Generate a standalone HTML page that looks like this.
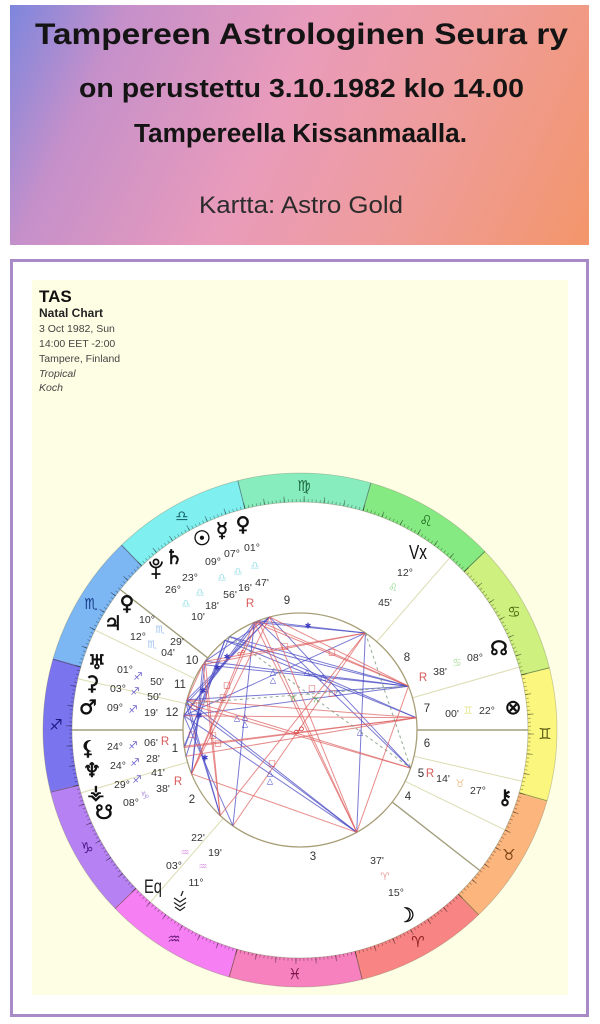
<!DOCTYPE html>
<html>
<head>
<meta charset="utf-8">
<style>
html,body{margin:0;padding:0;background:#fff;}
body{width:600px;height:1024px;position:relative;overflow:hidden;}
#banner{position:absolute;left:10px;top:5px;width:579px;height:240px;
background:linear-gradient(115deg,#7d86dd 0%,#c590ca 17%,#e99bbb 45%,#ef9c98 72%,#f3966a 100%);}
svg{position:absolute;left:0;top:0;}
.d{font-family:"Liberation Sans",sans-serif;font-size:10.5px;fill:#333;text-anchor:middle;dominant-baseline:central;}
.h{font-family:"Liberation Sans",sans-serif;font-size:11.5px;fill:#333;text-anchor:middle;dominant-baseline:central;}
.r{font-family:"Liberation Sans",sans-serif;font-size:11.5px;fill:#d85a5a;text-anchor:middle;dominant-baseline:central;}
.g{font-family:"DejaVu Sans",sans-serif;font-size:20px;fill:#111;stroke:#111;stroke-width:0.6;text-anchor:middle;dominant-baseline:central;}
.z{font-family:"DejaVu Sans",sans-serif;font-size:15px;text-anchor:middle;dominant-baseline:central;}
.s{font-family:"DejaVu Sans",sans-serif;font-size:10.5px;text-anchor:middle;dominant-baseline:central;}
.a{font-family:"DejaVu Sans",sans-serif;font-size:8px;text-anchor:middle;dominant-baseline:central;}
</style>
</head>
<body>
<div id="banner"></div>
<svg width="600" height="1024" viewBox="0 0 600 1024">
  <!-- Banner text -->
  <g font-family="Liberation Sans, sans-serif" fill="#141414">
    <text x="35" y="44" font-size="30" font-weight="700" textLength="533" lengthAdjust="spacingAndGlyphs">Tampereen Astrologinen Seura ry</text>
    <text x="79" y="97" font-size="25.5" font-weight="700" textLength="445" lengthAdjust="spacingAndGlyphs">on perustettu 3.10.1982 klo 14.00</text>
    <text x="134" y="142" font-size="25.5" font-weight="700" textLength="333" lengthAdjust="spacingAndGlyphs">Tampereella Kissanmaalla.</text>
    <text x="199" y="213" font-size="24" fill="#2b2b2b" textLength="204" lengthAdjust="spacingAndGlyphs">Kartta: Astro Gold</text>
  </g>

  <!-- Frame -->
  <rect x="11.5" y="260.5" width="576" height="755" fill="#fff" stroke="#a88ac6" stroke-width="3"/>
  <rect x="32" y="280" width="536" height="715" fill="#fefee5"/>

  <!-- Chart header -->
  <g font-family="Liberation Sans, sans-serif">
    <text x="39" y="302" font-size="17" font-weight="700" fill="#111">TAS</text>
    <text x="39" y="317" font-size="12" font-weight="700" fill="#222">Natal Chart</text>
    <text x="39" y="332" font-size="10.5" fill="#444">3 Oct 1982, Sun</text>
    <text x="39" y="347" font-size="10.5" fill="#444">14:00 EET -2:00</text>
    <text x="39" y="362" font-size="10.5" fill="#444">Tampere, Finland</text>
    <text x="39" y="377" font-size="10.5" font-style="italic" fill="#444">Tropical</text>
    <text x="39" y="391" font-size="10.5" font-style="italic" fill="#444">Koch</text>
  </g>

  <!-- Zodiac ring -->
  <g transform="translate(300,730)">
    <circle r="242.5" fill="none" stroke="#f98484" stroke-width="29" stroke-dasharray="127.6 1500" transform="rotate(46)"/>
    <circle r="242.5" fill="none" stroke="#fbb57d" stroke-width="29" stroke-dasharray="127.6 1500" transform="rotate(16)"/>
    <circle r="242.5" fill="none" stroke="#fbf67e" stroke-width="29" stroke-dasharray="127.6 1500" transform="rotate(-14)"/>
    <circle r="242.5" fill="none" stroke="#cdf07f" stroke-width="29" stroke-dasharray="127.6 1500" transform="rotate(-44)"/>
    <circle r="242.5" fill="none" stroke="#86ea82" stroke-width="29" stroke-dasharray="127.6 1500" transform="rotate(-74)"/>
    <circle r="242.5" fill="none" stroke="#88edbe" stroke-width="29" stroke-dasharray="127.6 1500" transform="rotate(-104)"/>
    <circle r="242.5" fill="none" stroke="#80eff0" stroke-width="29" stroke-dasharray="127.6 1500" transform="rotate(-134)"/>
    <circle r="242.5" fill="none" stroke="#7cb7f4" stroke-width="29" stroke-dasharray="127.6 1500" transform="rotate(-164)"/>
    <circle r="242.5" fill="none" stroke="#7b74ef" stroke-width="29" stroke-dasharray="127.6 1500" transform="rotate(-194)"/>
    <circle r="242.5" fill="none" stroke="#b682f3" stroke-width="29" stroke-dasharray="127.6 1500" transform="rotate(-224)"/>
    <circle r="242.5" fill="none" stroke="#f680f3" stroke-width="29" stroke-dasharray="127.6 1500" transform="rotate(-254)"/>
    <circle r="242.5" fill="none" stroke="#f681be" stroke-width="29" stroke-dasharray="127.6 1500" transform="rotate(-284)"/>
    <!-- ticks -->
    <circle r="229.5" fill="none" stroke="rgba(0,0,0,0.38)" stroke-width="3" stroke-dasharray="0.7 3.3055" stroke-dashoffset="0.35"/>
    <circle r="231" fill="none" stroke="rgba(0,0,0,0.38)" stroke-width="6" stroke-dasharray="0.9 19.2586" stroke-dashoffset="-3.58"/>
    <!-- ring outlines -->
    <circle r="257" fill="none" stroke="rgba(110,110,80,0.35)" stroke-width="0.8"/>
    <circle r="228" fill="#fff" stroke="rgba(110,110,80,0.45)" stroke-width="0.8"/>
    <!-- sign boundaries -->
    <g stroke="rgba(60,60,40,0.55)" stroke-width="0.9">
      <line x1="228" x2="257" transform="rotate(76)"/>
      <line x1="228" x2="257" transform="rotate(46)"/>
      <line x1="228" x2="257" transform="rotate(16)"/>
      <line x1="228" x2="257" transform="rotate(-14)"/>
      <line x1="228" x2="257" transform="rotate(-44)"/>
      <line x1="228" x2="257" transform="rotate(-74)"/>
      <line x1="228" x2="257" transform="rotate(-104)"/>
      <line x1="228" x2="257" transform="rotate(-134)"/>
      <line x1="228" x2="257" transform="rotate(-164)"/>
      <line x1="228" x2="257" transform="rotate(-194)"/>
      <line x1="228" x2="257" transform="rotate(-224)"/>
      <line x1="228" x2="257" transform="rotate(-254)"/>
    </g>
    <!-- house cusps -->
    <g stroke="#dcdcb2" stroke-width="1">
      <line x1="117" x2="228" transform="rotate(-196)"/>
      <line x1="117" x2="228" transform="rotate(-229)"/>
      <line x1="117" x2="228" transform="rotate(-334)"/>
      <line x1="117" x2="228" transform="rotate(-347)"/>
      <line x1="117" x2="228" transform="rotate(-16)"/>
      <line x1="117" x2="228" transform="rotate(-49)"/>
      <line x1="117" x2="228" transform="rotate(-154)"/>
      <line x1="117" x2="228" transform="rotate(-167)"/>
    </g>
    <g stroke="#a29e7c" stroke-width="1.4">
      <line x1="117" x2="228" transform="rotate(-180)"/>
      <line x1="117" x2="228" transform="rotate(-322)"/>
      <line x1="117" x2="228" transform="rotate(0)"/>
      <line x1="117" x2="228" transform="rotate(-142)"/>
    </g>
    <circle r="117" fill="#fff" stroke="#a89f78" stroke-width="1.3"/>
  </g>

  <!-- Sign glyphs -->
  <text class="z" x="418" y="942" fill="#8a1d1d">♈</text>
  <text class="z" x="509" y="855" fill="#7a4010">♉</text>
  <text class="z" x="545" y="734" fill="#555510">♊</text>
  <text class="z" x="514" y="612" fill="#4d6a10">♋</text>
  <text class="z" x="426" y="521" fill="#1d6a1d">♌</text>
  <text class="z" x="304" y="486" fill="#1d6a40">♍</text>
  <text class="z" x="182" y="516" fill="#1a6a70">♎</text>
  <text class="z" x="91" y="604" fill="#1a3f8a">♏</text>
  <text class="z" x="56" y="725" fill="#1a1a80">♐</text>
  <text class="z" x="87" y="848" fill="#4a1a8a">♑</text>
  <text class="z" x="174" y="939" fill="#6a1a7a">♒</text>
  <text class="z" x="295" y="974" fill="#7a1a4a">♓</text>

  <!-- Aspect lines -->
  <g stroke-width="1" fill="none">
    <g stroke="rgba(70,70,195,0.72)">
      <line x1="254.3" y1="622.3" x2="365.4" y2="633"/>
      <line x1="258.1" y1="620.8" x2="365.4" y2="633"/>
      <line x1="269.7" y1="617" x2="410.6" y2="768.1"/>
      <line x1="258.1" y1="620.8" x2="410.6" y2="768.1"/>
      <line x1="229.6" y1="636.6" x2="416.4" y2="717.8"/>
      <line x1="224.8" y1="640.4" x2="416.4" y2="717.8"/>
      <line x1="205.3" y1="661.2" x2="408.5" y2="686.2"/>
      <line x1="203" y1="664.6" x2="408.5" y2="686.2"/>
      <line x1="205.3" y1="661.2" x2="191.5" y2="773.8"/>
      <line x1="203" y1="664.6" x2="191.5" y2="773.8"/>
      <line x1="183.9" y1="715.7" x2="356.7" y2="832.3"/>
      <line x1="187" y1="699.7" x2="356.7" y2="832.3"/>
      <line x1="186" y1="703.7" x2="356.7" y2="832.3"/>
      <line x1="183.9" y1="715.7" x2="365.4" y2="633"/>
      <line x1="187" y1="699.7" x2="220.2" y2="815.6"/>
      <line x1="186" y1="703.7" x2="220.2" y2="815.6"/>
      <line x1="183.9" y1="715.7" x2="232.9" y2="825.8"/>
      <line x1="365.4" y1="633" x2="356.7" y2="832.3"/>
      <line x1="269.7" y1="617" x2="187" y2="699.7"/>
      <line x1="269.7" y1="617" x2="186" y2="703.7"/>
      <line x1="258.1" y1="620.8" x2="183.9" y2="715.7"/>
      <line x1="254.3" y1="622.3" x2="183.9" y2="715.7"/>
      <line x1="229.6" y1="636.6" x2="184.1" y2="746.3"/>
      <line x1="224.8" y1="640.4" x2="184.6" y2="747.5"/>
      <line x1="224.8" y1="640.4" x2="186" y2="756.3"/>
      <line x1="224.8" y1="640.4" x2="408.5" y2="686.2"/>
      <line x1="229.6" y1="636.6" x2="408.5" y2="686.2"/>
      <line x1="187" y1="699.7" x2="408.5" y2="686.2"/>
      <line x1="183.9" y1="715.7" x2="408.5" y2="686.2"/>
      <line x1="269.7" y1="617" x2="205.3" y2="661.2"/>
      <line x1="254.3" y1="622.3" x2="232.9" y2="825.8"/>
    </g>
    <g stroke="rgba(222,95,95,0.72)">
      <line x1="365.4" y1="633" x2="205.3" y2="661.2"/>
      <line x1="365.4" y1="633" x2="203" y2="664.6"/>
      <line x1="254.3" y1="622.3" x2="356.7" y2="832.3"/>
      <line x1="258.1" y1="620.8" x2="356.7" y2="832.3"/>
      <line x1="269.7" y1="617" x2="356.7" y2="832.3"/>
      <line x1="254.3" y1="622.3" x2="408.5" y2="686.2"/>
      <line x1="258.1" y1="620.8" x2="408.5" y2="686.2"/>
      <line x1="269.7" y1="617" x2="408.5" y2="686.2"/>
      <line x1="254.3" y1="622.3" x2="191.5" y2="773.8"/>
      <line x1="258.1" y1="620.8" x2="191.5" y2="773.8"/>
      <line x1="269.7" y1="617" x2="191.5" y2="773.8"/>
      <line x1="205.3" y1="661.2" x2="220.2" y2="815.6"/>
      <line x1="203" y1="664.6" x2="220.2" y2="815.6"/>
      <line x1="184.1" y1="746.3" x2="416.4" y2="717.8"/>
      <line x1="184.6" y1="747.5" x2="416.4" y2="717.8"/>
      <line x1="186" y1="756.3" x2="416.4" y2="717.8"/>
      <line x1="187" y1="699.7" x2="410.6" y2="768.1"/>
      <line x1="186" y1="703.7" x2="410.6" y2="768.1"/>
      <line x1="220.2" y1="815.6" x2="365.4" y2="633"/>
      <line x1="232.9" y1="825.8" x2="365.4" y2="633"/>
      <line x1="356.7" y1="832.3" x2="408.5" y2="686.2"/>
      <line x1="356.7" y1="832.3" x2="191.5" y2="773.8"/>
      <line x1="187" y1="699.7" x2="416.4" y2="717.8"/>
      <line x1="183.9" y1="715.7" x2="416.4" y2="717.8"/>
      <line x1="203" y1="664.6" x2="187" y2="699.7"/>
    </g>
    <g stroke="rgba(120,150,120,0.8)" stroke-dasharray="3 3">
      <line x1="186" y1="703.7" x2="408.5" y2="686.2"/>
      <line x1="365.4" y1="633" x2="410.6" y2="768.1"/>
      <line x1="229.6" y1="636.6" x2="410.6" y2="768.1"/>
    </g>
  </g>
  <!-- Aspect glyphs -->
  <g>
    <text class="a" x="308" y="626" fill="#3a3ac0">✱</text>
    <text class="a" x="227" y="657" fill="#3a3ac0">✱</text>
    <text class="a" x="217" y="668" fill="#3a3ac0">✱</text>
    <text class="a" x="203" y="691" fill="#3a3ac0">✱</text>
    <text class="a" x="199" y="716" fill="#3a3ac0">✱</text>
    <text class="a" x="205" y="758" fill="#3a3ac0">✱</text>
    <text class="a" x="273" y="672" fill="#3a3ac0">△</text>
    <text class="a" x="273" y="680" fill="#3a3ac0">△</text>
    <text class="a" x="307" y="672" fill="#3a3ac0">△</text>
    <text class="a" x="323" y="677" fill="#3a3ac0">△</text>
    <text class="a" x="338" y="692" fill="#3a3ac0">△</text>
    <text class="a" x="237" y="718" fill="#3a3ac0">△</text>
    <text class="a" x="245" y="717" fill="#3a3ac0">△</text>
    <text class="a" x="245" y="724" fill="#3a3ac0">△</text>
    <text class="a" x="360" y="732" fill="#3a3ac0">△</text>
    <text class="a" x="270" y="773" fill="#3a3ac0">△</text>
    <text class="a" x="270" y="781" fill="#3a3ac0">△</text>
    <text class="a" x="285" y="646" fill="#d84040" font-weight="700">□</text>
    <text class="a" x="332" y="652" fill="#d84040" font-weight="700">□</text>
    <text class="a" x="227" y="685" fill="#d84040">□</text>
    <text class="a" x="223" y="697" fill="#d84040">□</text>
    <text class="a" x="312" y="688" fill="#d84040">□</text>
    <text class="a" x="332" y="693" fill="#d84040">□</text>
    <text class="a" x="213" y="735" fill="#d84040">□</text>
    <text class="a" x="218" y="743" fill="#d84040" font-weight="700">□</text>
    <text class="a" x="272" y="763" fill="#d84040">□</text>
    <text class="a" x="194" y="706" fill="#d84040" font-weight="700">□</text>
    <text class="a" x="192" y="734" fill="#d84040" font-weight="700">□</text>
    <text class="a" x="241" y="653" fill="#d84040">☍</text>
    <text x="299" y="731" font-family="DejaVu Sans, sans-serif" font-size="11" fill="#d84040" text-anchor="middle" dominant-baseline="central">☍</text>
    <text class="a" x="293" y="699" fill="#3a9a3a">⚻</text>
    <text class="a" x="316" y="700" fill="#3a9a3a">⚻</text>
  </g>

  <!-- House numbers -->
  <text class="h" x="192" y="661">10</text>
  <text class="h" x="180" y="685">11</text>
  <text class="h" x="172" y="713">12</text>
  <text class="h" x="175" y="749" font-size="9">1</text>
  <text class="h" x="192" y="800">2</text>
  <text class="h" x="313" y="857">3</text>
  <text class="h" x="408" y="797">4</text>
  <text class="h" x="421" y="774">5</text>
  <text class="h" x="427" y="744">6</text>
  <text class="h" x="427" y="709">7</text>
  <text class="h" x="407" y="658">8</text>
  <text class="h" x="287" y="601">9</text>

  <!-- Planets upper-left (Libra) -->
  <text class="g" x="202" y="538" font-size="22">☉</text>
  <text class="g" x="222" y="530">☿</text>
  <text class="g" x="243" y="524">♀</text>
  <text class="g" x="174" y="557" font-size="19">♄</text>
  <!-- Pluto (drawn) -->
  <g stroke="#111" stroke-width="1.7" fill="none">
    <circle cx="156" cy="562" r="2.6"/>
    <path d="M150 561.5 A6 6 0 0 0 162 561.5"/>
    <line x1="156" y1="567.5" x2="156" y2="579"/>
    <line x1="151.5" y1="574" x2="160.5" y2="574"/>
  </g>
  <text class="d" x="213" y="562">09°</text>
  <text class="s" x="222" y="578" fill="#9edfe8">♎</text>
  <text class="d" x="230" y="595">56'</text>
  <text class="d" x="232" y="554">07°</text>
  <text class="s" x="238" y="572" fill="#9edfe8">♎</text>
  <text class="d" x="245" y="588">16'</text>
  <text class="r" x="250" y="604">R</text>
  <text class="d" x="252" y="548">01°</text>
  <text class="s" x="255" y="566" fill="#9edfe8">♎</text>
  <text class="d" x="262" y="583">47'</text>
  <text class="d" x="190" y="578">23°</text>
  <text class="s" x="200" y="593" fill="#9edfe8">♎</text>
  <text class="d" x="212" y="606">18'</text>
  <text class="d" x="173" y="590">26°</text>
  <text class="s" x="186" y="604" fill="#9edfe8">♎</text>
  <text class="d" x="198" y="617">10'</text>

  <!-- Scorpio -->
  <text class="g" x="127" y="603" font-size="17">♀</text>
  <text class="g" x="113" y="623" font-size="19">♃</text>
  <text class="d" x="147" y="620">10°</text>
  <text class="s" x="160" y="630" fill="#a0c4ec">♏</text>
  <text class="d" x="177" y="642">29'</text>
  <text class="d" x="138" y="637">12°</text>
  <text class="s" x="152" y="645" fill="#a0c4ec">♏</text>
  <text class="d" x="168" y="653">04'</text>

  <!-- Sagittarius -->
  <text class="g" x="97" y="662" font-size="19">♅</text>
  <text class="g" x="92" y="683" font-size="19">⚳</text>
  <text class="g" x="88" y="707">♂</text>
  <text class="d" x="125" y="670">01°</text>
  <text class="s" x="138" y="677" fill="#7068d0">♐</text>
  <text class="d" x="157" y="682">50'</text>
  <text class="d" x="118" y="689">03°</text>
  <text class="s" x="135" y="692" fill="#7068d0">♐</text>
  <text class="d" x="154" y="697">50'</text>
  <text class="d" x="115" y="708">09°</text>
  <text class="s" x="133" y="710" fill="#7068d0">♐</text>
  <text class="d" x="151" y="713">19'</text>

  <text class="g" x="88" y="748" font-size="19">⚸</text>
  <text class="g" x="92" y="770" font-size="19">♆</text>
  <text class="g" x="96" y="792" font-size="19">⚶</text>
  <text class="g" x="104" y="812" font-size="19">☋</text>
  <text class="d" x="115" y="747">24°</text>
  <text class="s" x="133" y="746" fill="#7068d0">♐</text>
  <text class="d" x="151" y="743">06'</text>
  <text class="r" x="165" y="742">R</text>
  <text class="d" x="118" y="766">24°</text>
  <text class="s" x="135" y="763" fill="#7068d0">♐</text>
  <text class="d" x="153" y="759">28'</text>
  <text class="d" x="122" y="785">29°</text>
  <text class="s" x="137" y="780" fill="#7068d0">♐</text>
  <text class="d" x="158" y="773">41'</text>
  <text class="r" x="178" y="782">R</text>
  <text class="d" x="131" y="803">08°</text>
  <text class="s" x="145" y="796" fill="#b49ae0">♑</text>
  <text class="d" x="163" y="789">38'</text>

  <!-- Aquarius points -->
  <text class="d" x="198" y="838">22'</text>
  <text class="s" x="185" y="853" fill="#e0a0e6">♒</text>
  <text class="d" x="215" y="853">19'</text>
  <text class="d" x="174" y="866">03°</text>
  <text class="s" x="203" y="867" fill="#e0a0e6">♒</text>
  <text class="d" x="196" y="883">11°</text>
  <text x="144" y="893" font-family="Liberation Sans, sans-serif" font-size="19" fill="#222" textLength="18" lengthAdjust="spacingAndGlyphs">Eq</text>
  <g stroke="#222" fill="none" stroke-width="1.3">
    <path d="M174 898 l6 4 l6 -4 M174 902.5 l6 4 l6 -4 M175 907 l5 3.5 l5 -3.5"/>
    <path d="M183 891 l-2 5"/>
  </g>

  <!-- Moon -->
  <text class="g" x="406" y="915" font-size="22">☽</text>
  <text class="d" x="377" y="861">37'</text>
  <text class="s" x="385" y="877" fill="#e8a0a0">♈</text>
  <text class="d" x="396" y="893">15°</text>

  <!-- Right side -->
  <text class="r" x="430" y="774">R</text>
  <text class="d" x="443" y="779">14'</text>
  <text class="s" x="460" y="784" fill="#f0c090">♉</text>
  <text class="d" x="478" y="791">27°</text>
  <text class="g" x="505" y="797">⚷</text>

  <text class="d" x="452" y="714">00'</text>
  <text class="s" x="468" y="711" fill="#e6e690">♊</text>
  <text class="d" x="487" y="711">22°</text>
  <text class="g" x="513" y="707" font-size="22">⊗</text>

  <text class="r" x="423" y="678">R</text>
  <text class="d" x="440" y="672">38'</text>
  <text class="s" x="457" y="663" fill="#b4e0a0">♋</text>
  <text class="d" x="475" y="658">08°</text>
  <text class="g" x="499" y="648">☊</text>

  <text x="409" y="559" font-family="Liberation Sans, sans-serif" font-size="20" fill="#111" textLength="18" lengthAdjust="spacingAndGlyphs">Vx</text>
  <text class="d" x="405" y="573">12°</text>
  <text class="s" x="393" y="588" fill="#90d890">♌</text>
  <text class="d" x="385" y="603">45'</text>
</svg>
</body>
</html>
